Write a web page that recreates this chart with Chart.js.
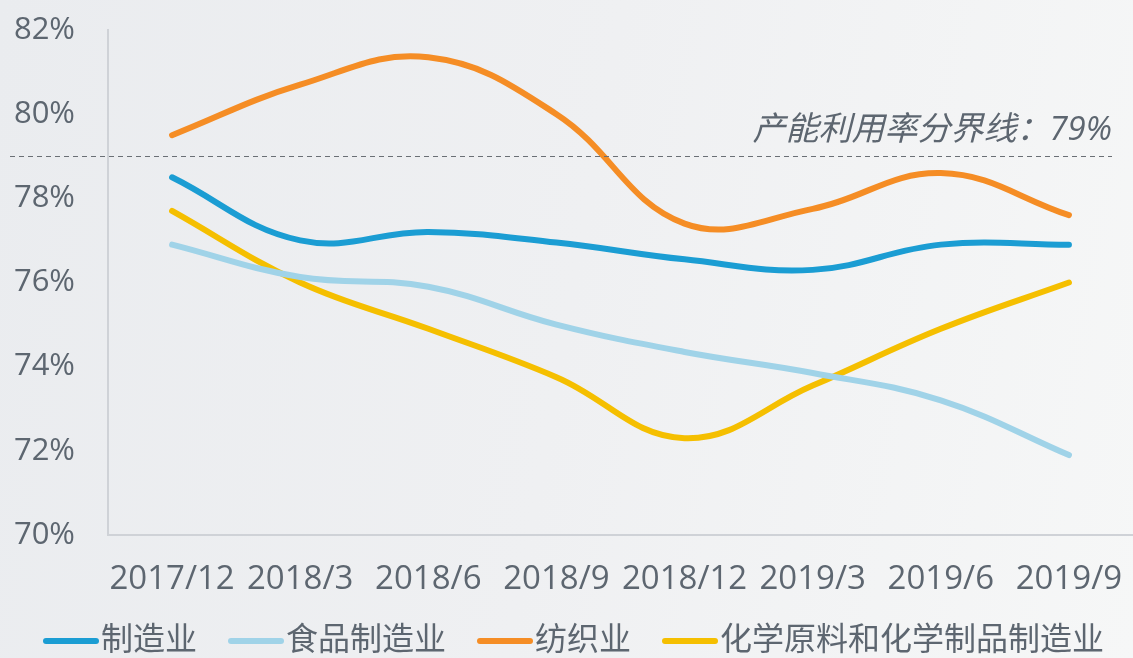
<!DOCTYPE html>
<html><head><meta charset="utf-8">
<script src="https://cdn.jsdelivr.net/npm/chart.js@4"></script>
<style>
html,body{margin:0;padding:0;}
body{width:1133px;height:658px;background:linear-gradient(100deg,#eaecef 0%,#eff0f2 50%,#f6f7f7 100%);overflow:hidden;}
#wrap{width:1133px;height:658px;position:relative;}
</style></head><body>
<div id="wrap"><canvas id="c" width="1133" height="658"></canvas></div>
<script>
const categories = ['2017/12','2018/3','2018/6','2018/9','2018/12','2019/3','2019/6','2019/9'];
const manufacturing = [78.5, 77.0, 77.2, 76.95, 76.55, 76.3, 76.9, 76.9];
const food = [76.9, 76.13, 75.9, 75.0, 74.35, 73.85, 73.2, 71.9];
const textile = [79.5, 80.7, 81.35, 80.0, 77.4, 77.75, 78.6, 77.6];
const chemical = [77.7, 76.0, 74.9, 73.75, 72.3, 73.55, 74.9, 76.0];
const seriesNames = ['制造业','食品制造业','纺织业','化学原料和化学制品制造业'];
const yTicks = [70,72,74,76,78,80,82];
const thresholdValue = 79;
const thresholdLabel = '产能利用率分界线：79%';

const colors = ['#1b9dd3','#a0d3e8','#f58d25','#f5bf00'];
const FONT = '"Open Sans","Noto Sans CJK SC",sans-serif';
const textColor = '#5d6670';

function ds(label, data, color){
  return {label, data, borderColor:color, backgroundColor:color, borderWidth:6,
    pointRadius:0, pointHoverRadius:0, tension:0.4,
    borderCapStyle:'round', borderJoinStyle:'round', fill:false};
}

const thresholdPlugin = {
  id:'threshold',
  afterDatasetsDraw(chart){
    const ctx = chart.ctx, y = chart.scales.y.getPixelForValue(thresholdValue);
    ctx.save();
    ctx.strokeStyle = '#6a6f75'; ctx.lineWidth = 1; ctx.setLineDash([5,4]);
    ctx.beginPath(); ctx.moveTo(10, Math.round(y)+0.5); ctx.lineTo(1112, Math.round(y)+0.5); ctx.stroke();
    ctx.setLineDash([]);
    ctx.fillStyle = textColor; ctx.font = 'italic 33px ' + FONT;
    ctx.textAlign = 'right'; ctx.textBaseline = 'alphabetic';
    ctx.fillText(thresholdLabel, 1112, y - 16);
    ctx.restore();
  }
};

const legendPlugin = {
  id:'customLegend',
  afterDraw(chart){
    const ctx = chart.ctx;
    ctx.save();
    ctx.font = '32px ' + FONT;
    ctx.textBaseline = 'middle'; ctx.textAlign = 'left';
    const cy = 641;
    let x = 46;
    chart.data.datasets.forEach((d,i)=>{
      ctx.strokeStyle = d.borderColor; ctx.lineWidth = 6; ctx.lineCap = 'round';
      ctx.beginPath(); ctx.moveTo(x, cy); ctx.lineTo(x+50, cy); ctx.stroke();
      ctx.fillStyle = textColor;
      ctx.fillText(d.label, x+55, cy);
      x += 55 + ctx.measureText(d.label).width + 34;
    });
    ctx.restore();
  }
};

new Chart(document.getElementById('c'), {
  type:'line',
  data:{labels:categories, datasets:[
    ds(seriesNames[0], manufacturing, colors[0]),
    ds(seriesNames[1], food, colors[1]),
    ds(seriesNames[2], textile, colors[2]),
    ds(seriesNames[3], chemical, colors[3])
  ]},
  options:{
    responsive:false, animation:false, devicePixelRatio:1,
    layout:{padding:{top:30,right:0,bottom:53,left:0}},
    plugins:{legend:{display:false}, tooltip:{enabled:false}},
    scales:{
      x:{offset:true,
        grid:{display:false, drawTicks:false},
        border:{display:true, color:'#cfd2d7', width:2},
        ticks:{color:textColor, font:{family:FONT, size:33}, padding:25, maxRotation:0, autoSkip:false},
        afterFit(s){ s.height = 70; s.paddingLeft = 0; s.paddingRight = 0; }
      },
      y:{min:70, max:82,
        afterBuildTicks(s){ s.ticks = yTicks.map(v=>({value:v})); },
        grid:{display:false, drawTicks:false},
        border:{display:true, color:'#cfd2d7', width:2},
        ticks:{color:textColor, font:{family:FONT, size:31}, padding:33, callback:v=>v+'%'},
        afterFit(s){ s.width = 108; s.paddingTop = 0; s.paddingBottom = 0; }
      }
    }
  },
  plugins:[thresholdPlugin, legendPlugin]
});
</script>
</body></html>
